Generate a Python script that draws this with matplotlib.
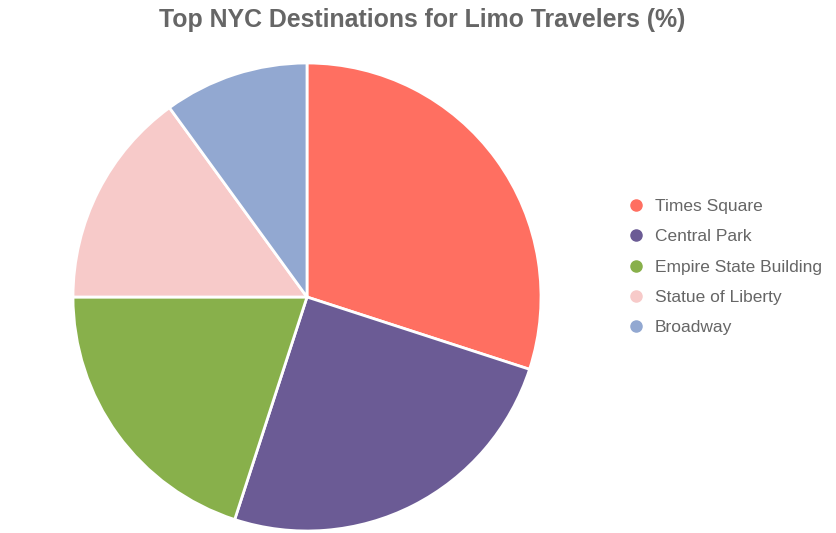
import matplotlib
matplotlib.use("Agg")
import matplotlib.pyplot as plt
from matplotlib.lines import Line2D

plt.rcParams['font.family'] = ['Liberation Sans', 'DejaVu Sans']

# Chart data
labels = ["Times Square", "Central Park", "Empire State Building",
          "Statue of Liberty", "Broadway"]
values = [30, 25, 20, 15, 10]
colors = ["#FF6F61", "#6B5B95", "#88B04B", "#F7CAC9", "#92A8D1"]
title = "Top NYC Destinations for Limo Travelers (%)"

W, H = 836, 533
fig = plt.figure(figsize=(W / 100, H / 100), dpi=100)
fig.patch.set_facecolor("white")

# pie centre (307, 297) px, radius 234 px
cx, cy, r = 307, 297, 234
ax = fig.add_axes([(cx - r) / W, (H - cy - r) / H, 2 * r / W, 2 * r / H])
ax.pie(values, colors=colors, startangle=90, counterclock=False, radius=1,
       wedgeprops=dict(edgecolor="white", linewidth=2))
ax.set_xlim(-1, 1)
ax.set_ylim(-1, 1)
ax.set_aspect("equal")
ax.axis("off")

fig.text(422 / W, 1 - 20 / H, title, ha="center", va="center",
         fontsize=17.9, fontweight="bold", color="#666666")

handles = [Line2D([], [], marker="o", linestyle="none", markersize=8,
                  markerfacecolor=c, markeredgecolor=c) for c in colors]
fig.legend(handles, labels, loc="upper left",
           bbox_to_anchor=(619 / W, 1 - 192 / H), frameon=False,
           fontsize=12.5, labelcolor="#666666", handletextpad=0.45,
           labelspacing=0.87, handlelength=1.2, borderaxespad=0)

fig.savefig("out.png", dpi=100, facecolor="white")
